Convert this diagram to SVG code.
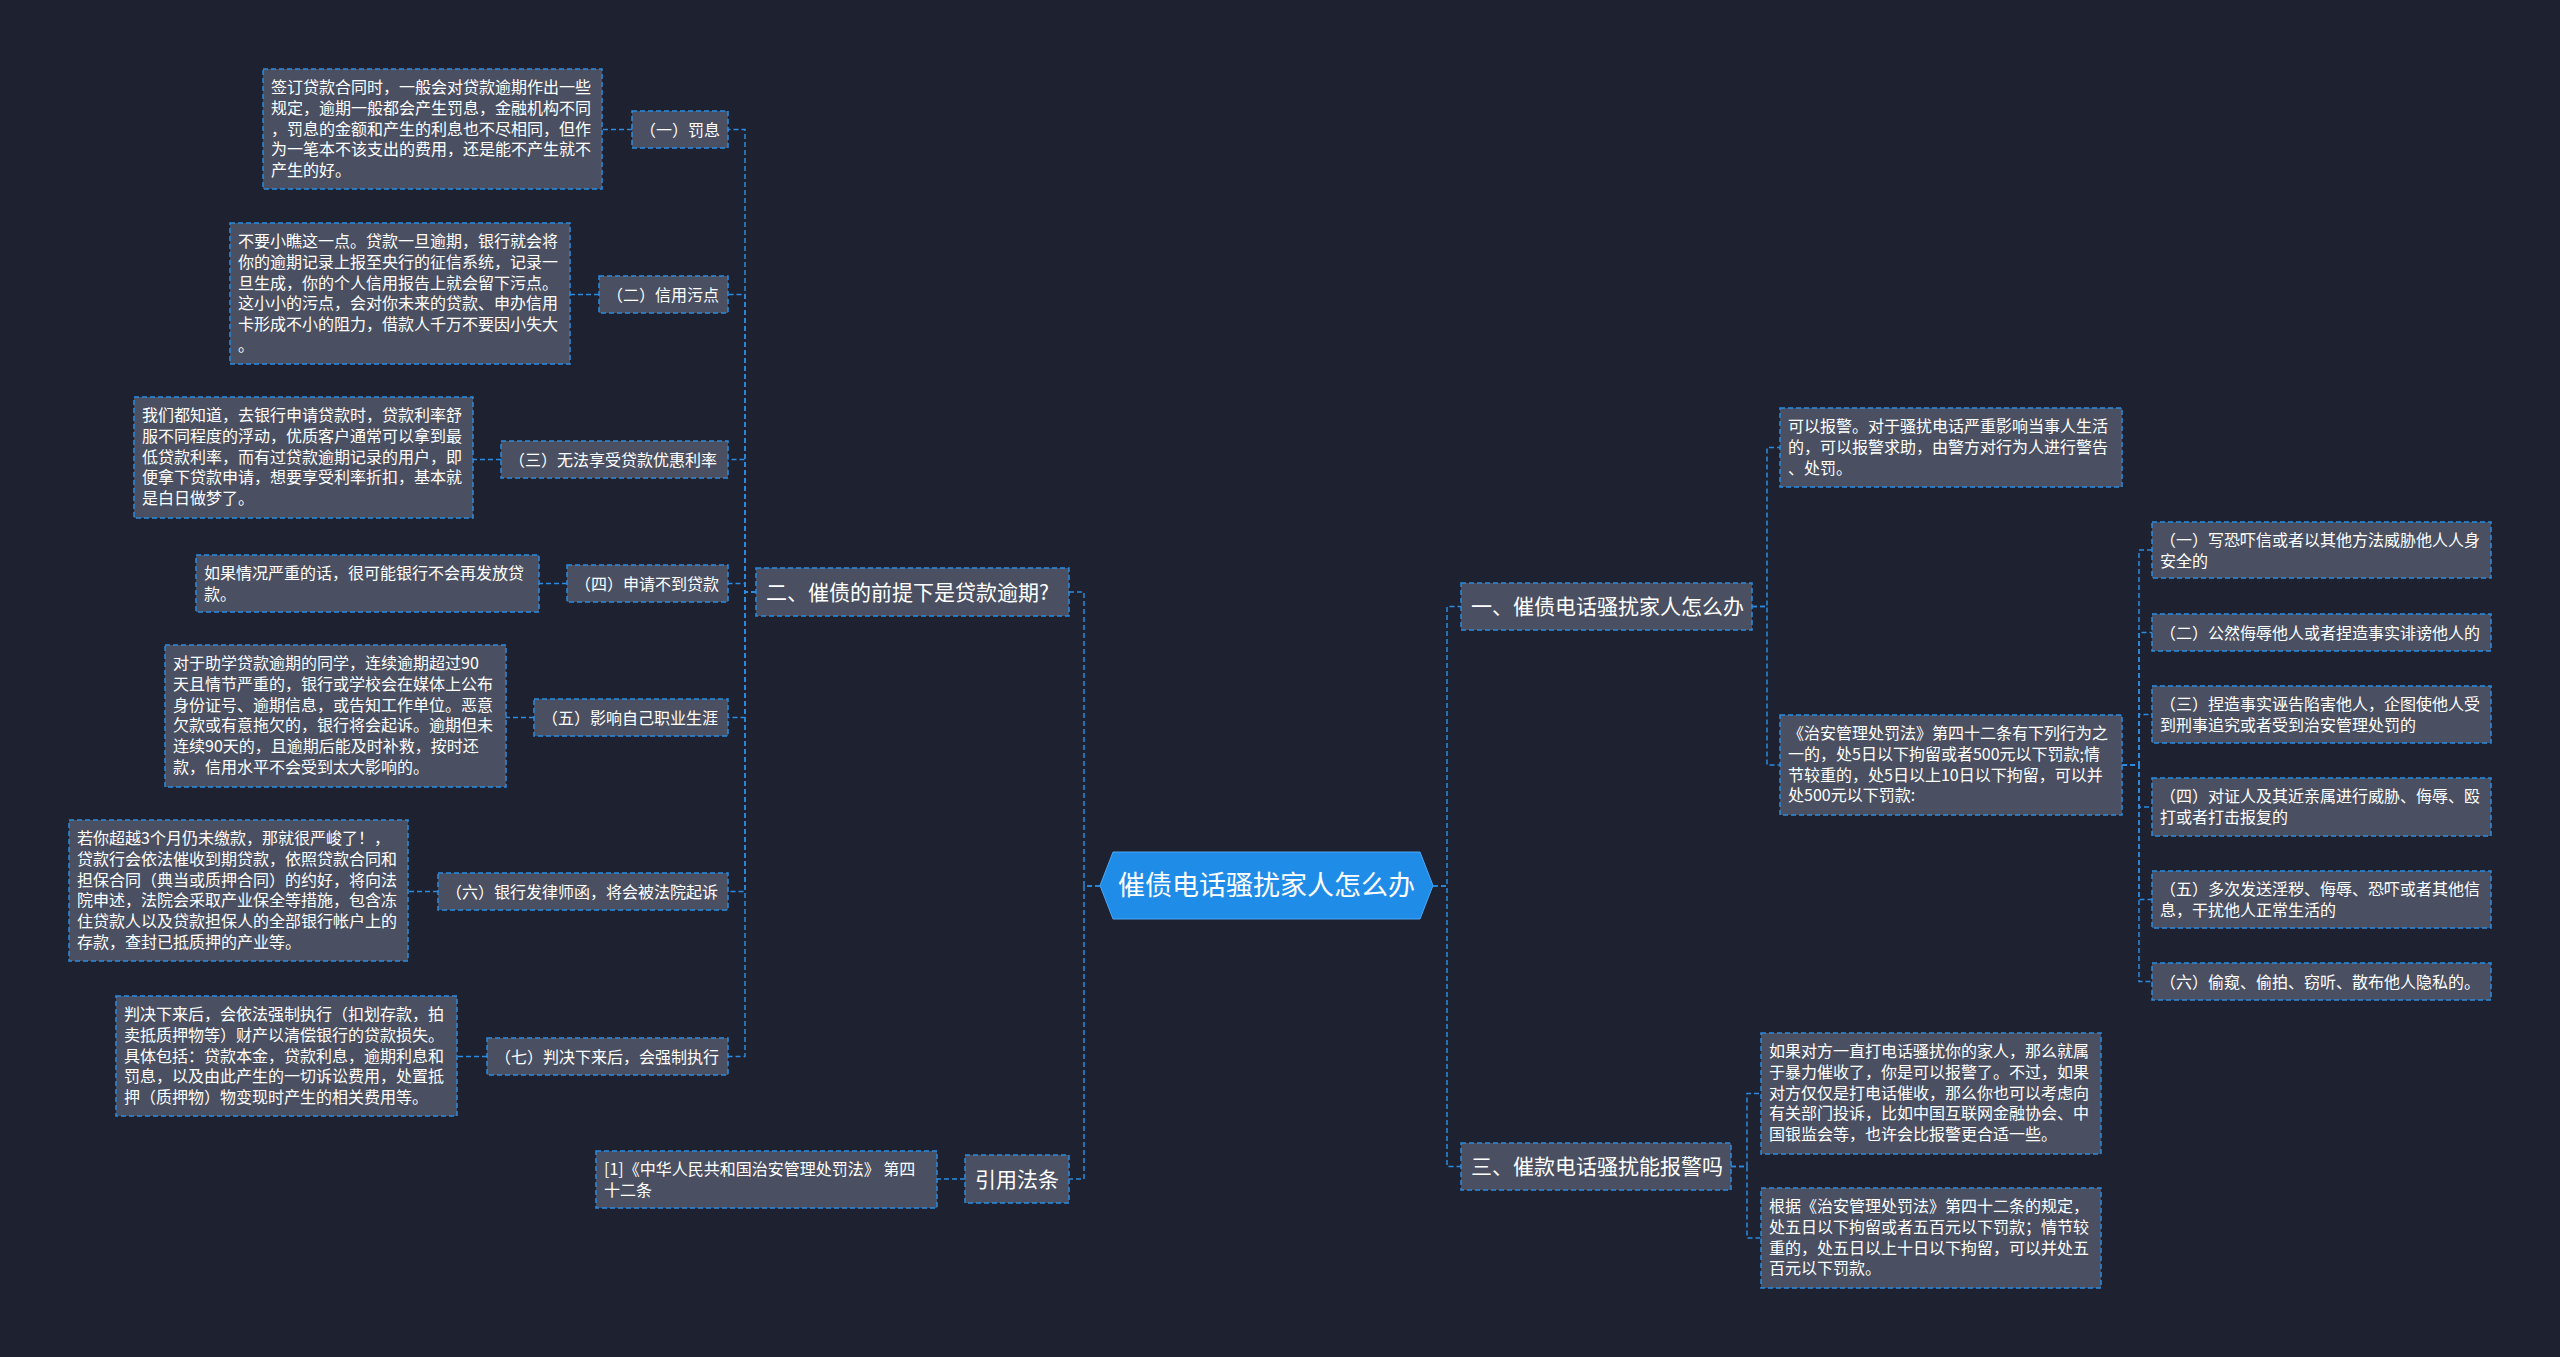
<svg xmlns="http://www.w3.org/2000/svg" width="2560" height="1357" viewBox="0 0 2560 1357">
<style>
.bg{fill:#1e2130}
.box{fill:#4a5061;stroke:#2a8be0;stroke-width:1.5;stroke-dasharray:5 3}
.edge{fill:none;stroke:#2a8be0;stroke-width:1.5;stroke-dasharray:5 3}
.t{font-family:"Noto Sans CJK SC","Noto Sans",sans-serif;font-size:16px;fill:#ffffff}
.m{font-family:"Noto Sans CJK SC","Noto Sans",sans-serif;font-size:21px;fill:#ffffff}
.c{font-family:"Noto Sans CJK SC","Noto Sans",sans-serif;font-size:27px;fill:#ffffff}
</style>
<rect class="bg" x="0" y="0" width="2560" height="1357"/>

<g id="connectors">
<path class="edge" d="M1100 886 H1084 V592 H1069"/>
<path class="edge" d="M1100 886 H1084 V1179 H1069"/>
<path class="edge" d="M1433 886 H1447 V606.5 H1461"/>
<path class="edge" d="M1433 886 H1447 V1166.5 H1461"/>
<path class="edge" d="M756 592 H745 V129.5 H728"/>
<path class="edge" d="M756 592 H745 V294.5 H728"/>
<path class="edge" d="M756 592 H745 V459.5 H728"/>
<path class="edge" d="M756 592 H745 V583.5 H728"/>
<path class="edge" d="M756 592 H745 V717.5 H728"/>
<path class="edge" d="M756 592 H745 V891.5 H728"/>
<path class="edge" d="M756 592 H745 V1056.5 H728"/>
<path class="edge" d="M632 129.5 H602"/>
<path class="edge" d="M599 294.5 H570"/>
<path class="edge" d="M501 459.5 H473"/>
<path class="edge" d="M567 583.5 H539"/>
<path class="edge" d="M534 717.5 H506"/>
<path class="edge" d="M438 891.5 H408"/>
<path class="edge" d="M487 1056.5 H457"/>
<path class="edge" d="M965 1179 H937"/>
<path class="edge" d="M1752 606.5 H1767 V447.5 H1780"/>
<path class="edge" d="M1752 606.5 H1767 V765 H1780"/>
<path class="edge" d="M2122 765 H2139 V550 H2152"/>
<path class="edge" d="M2122 765 H2139 V632.5 H2152"/>
<path class="edge" d="M2122 765 H2139 V714.5 H2152"/>
<path class="edge" d="M2122 765 H2139 V807 H2152"/>
<path class="edge" d="M2122 765 H2139 V899.5 H2152"/>
<path class="edge" d="M2122 765 H2139 V981.5 H2152"/>
<path class="edge" d="M1731 1166.5 H1747 V1093.5 H1761"/>
<path class="edge" d="M1731 1166.5 H1747 V1238 H1761"/>
</g>

<g id="center">
<polygon points="1100,885.5 1113,852 1420,852 1433,885.5 1420,919 1113,919" fill="#1f8de8" stroke="#4aa8f5" stroke-width="1"/>
<text class="c" x="1266.5" y="895" text-anchor="middle">催债电话骚扰家人怎么办</text>
</g>

<g id="main-2">
<rect class="box" x="756" y="568" width="313" height="48"/>
<text class="m" x="766" y="599.5">二、催债的前提下是贷款逾期?</text>
</g>
<g id="main-ref">
<rect class="box" x="965" y="1155" width="104" height="48"/>
<text class="m" x="975" y="1186.5">引用法条</text>
</g>
<g id="main-1">
<rect class="box" x="1461" y="583" width="291" height="47"/>
<text class="m" x="1471" y="614">一、催债电话骚扰家人怎么办</text>
</g>
<g id="main-3">
<rect class="box" x="1461" y="1143" width="270" height="47"/>
<text class="m" x="1471" y="1174">三、催款电话骚扰能报警吗</text>
</g>

<g id="s1">
<rect class="box" x="632" y="111" width="96" height="37"/>
<text class="t" x="640" y="135.5">（一）罚息</text>
</g>
<g id="s2">
<rect class="box" x="599" y="276" width="129" height="37"/>
<text class="t" x="607" y="300.5">（二）信用污点</text>
</g>
<g id="s3">
<rect class="box" x="501" y="441" width="227" height="37"/>
<text class="t" x="509" y="465.5">（三）无法享受贷款优惠利率</text>
</g>
<g id="s4">
<rect class="box" x="567" y="565" width="161" height="37"/>
<text class="t" x="575" y="589.5">（四）申请不到贷款</text>
</g>
<g id="s5">
<rect class="box" x="534" y="699" width="194" height="37"/>
<text class="t" x="542" y="723.5">（五）影响自己职业生涯</text>
</g>
<g id="s6">
<rect class="box" x="438" y="873" width="290" height="37"/>
<text class="t" x="446" y="897.5">（六）银行发律师函，将会被法院起诉</text>
</g>
<g id="s7">
<rect class="box" x="487" y="1038" width="241" height="37"/>
<text class="t" x="495" y="1062.5">（七）判决下来后，会强制执行</text>
</g>

<g id="b1">
<rect class="box" x="263" y="69" width="339" height="120"/>
<text class="t" x="271" y="93"><tspan x="271">签订贷款合同时，一般会对贷款逾期作出一些</tspan><tspan x="271" dy="20.8">规定，逾期一般都会产生罚息，金融机构不同</tspan><tspan x="271" dy="20.8">，罚息的金额和产生的利息也不尽相同，但作</tspan><tspan x="271" dy="20.8">为一笔本不该支出的费用，还是能不产生就不</tspan><tspan x="271" dy="20.8">产生的好。</tspan></text>
</g>
<g id="b2">
<rect class="box" x="230" y="223" width="340" height="141"/>
<text class="t" x="238" y="247"><tspan x="238">不要小瞧这一点。贷款一旦逾期，银行就会将</tspan><tspan x="238" dy="20.8">你的逾期记录上报至央行的征信系统，记录一</tspan><tspan x="238" dy="20.8">旦生成，你的个人信用报告上就会留下污点。</tspan><tspan x="238" dy="20.8">这小小的污点，会对你未来的贷款、申办信用</tspan><tspan x="238" dy="20.8">卡形成不小的阻力，借款人千万不要因小失大</tspan><tspan x="238" dy="20.8">。</tspan></text>
</g>
<g id="b3">
<rect class="box" x="134" y="397" width="339" height="121"/>
<text class="t" x="142" y="421"><tspan x="142">我们都知道，去银行申请贷款时，贷款利率舒</tspan><tspan x="142" dy="20.8">服不同程度的浮动，优质客户通常可以拿到最</tspan><tspan x="142" dy="20.8">低贷款利率，而有过贷款逾期记录的用户，即</tspan><tspan x="142" dy="20.8">便拿下贷款申请，想要享受利率折扣，基本就</tspan><tspan x="142" dy="20.8">是白日做梦了。</tspan></text>
</g>
<g id="b4">
<rect class="box" x="196" y="555" width="343" height="57"/>
<text class="t" x="204" y="579"><tspan x="204">如果情况严重的话，很可能银行不会再发放贷</tspan><tspan x="204" dy="20.8">款。</tspan></text>
</g>
<g id="b5">
<rect class="box" x="165" y="645" width="341" height="142"/>
<text class="t" x="173" y="669"><tspan x="173">对于助学贷款逾期的同学，连续逾期超过90</tspan><tspan x="173" dy="20.8">天且情节严重的，银行或学校会在媒体上公布</tspan><tspan x="173" dy="20.8">身份证号、逾期信息，或告知工作单位。恶意</tspan><tspan x="173" dy="20.8">欠款或有意拖欠的，银行将会起诉。逾期但未</tspan><tspan x="173" dy="20.8">连续90天的，且逾期后能及时补救，按时还</tspan><tspan x="173" dy="20.8">款，信用水平不会受到太大影响的。</tspan></text>
</g>
<g id="b6">
<rect class="box" x="69" y="820" width="339" height="141"/>
<text class="t" x="77" y="844"><tspan x="77">若你超越3个月仍未缴款，那就很严峻了！，</tspan><tspan x="77" dy="20.8">贷款行会依法催收到期贷款，依照贷款合同和</tspan><tspan x="77" dy="20.8">担保合同（典当或质押合同）的约好，将向法</tspan><tspan x="77" dy="20.8">院申述，法院会采取产业保全等措施，包含冻</tspan><tspan x="77" dy="20.8">住贷款人以及贷款担保人的全部银行帐户上的</tspan><tspan x="77" dy="20.8">存款，查封已抵质押的产业等。</tspan></text>
</g>
<g id="b7">
<rect class="box" x="116" y="996" width="341" height="120"/>
<text class="t" x="124" y="1020"><tspan x="124">判决下来后，会依法强制执行（扣划存款，拍</tspan><tspan x="124" dy="20.8">卖抵质押物等）财产以清偿银行的贷款损失。</tspan><tspan x="124" dy="20.8">具体包括：贷款本金，贷款利息，逾期利息和</tspan><tspan x="124" dy="20.8">罚息，以及由此产生的一切诉讼费用，处置抵</tspan><tspan x="124" dy="20.8">押（质押物）物变现时产生的相关费用等。</tspan></text>
</g>
<g id="ref">
<rect class="box" x="596" y="1151" width="341" height="57"/>
<text class="t" x="604" y="1175"><tspan x="604">[1]《中华人民共和国治安管理处罚法》 第四</tspan><tspan x="604" dy="20.8">十二条</tspan></text>
</g>

<g id="r1">
<rect class="box" x="1780" y="408" width="342" height="79"/>
<text class="t" x="1788" y="432"><tspan x="1788">可以报警。对于骚扰电话严重影响当事人生活</tspan><tspan x="1788" dy="20.8">的，可以报警求助，由警方对行为人进行警告</tspan><tspan x="1788" dy="20.8">、处罚。</tspan></text>
</g>
<g id="r2">
<rect class="box" x="1780" y="715" width="342" height="100"/>
<text class="t" x="1788" y="739"><tspan x="1788">《治安管理处罚法》第四十二条有下列行为之</tspan><tspan x="1788" dy="20.8">一的，处5日以下拘留或者500元以下罚款;情</tspan><tspan x="1788" dy="20.8">节较重的，处5日以上10日以下拘留，可以并</tspan><tspan x="1788" dy="20.8">处500元以下罚款:</tspan></text>
</g>

<g id="c1">
<rect class="box" x="2152" y="522" width="339" height="56"/>
<text class="t" x="2160" y="546"><tspan x="2160">（一）写恐吓信或者以其他方法威胁他人人身</tspan><tspan x="2160" dy="20.8">安全的</tspan></text>
</g>
<g id="c2">
<rect class="box" x="2152" y="614" width="339" height="37"/>
<text class="t" x="2160" y="638.5">（二）公然侮辱他人或者捏造事实诽谤他人的</text>
</g>
<g id="c3">
<rect class="box" x="2152" y="686" width="339" height="57"/>
<text class="t" x="2160" y="710"><tspan x="2160">（三）捏造事实诬告陷害他人，企图使他人受</tspan><tspan x="2160" dy="20.8">到刑事追究或者受到治安管理处罚的</tspan></text>
</g>
<g id="c4">
<rect class="box" x="2152" y="778" width="339" height="58"/>
<text class="t" x="2160" y="802"><tspan x="2160">（四）对证人及其近亲属进行威胁、侮辱、殴</tspan><tspan x="2160" dy="20.8">打或者打击报复的</tspan></text>
</g>
<g id="c5">
<rect class="box" x="2152" y="871" width="339" height="57"/>
<text class="t" x="2160" y="895"><tspan x="2160">（五）多次发送淫秽、侮辱、恐吓或者其他信</tspan><tspan x="2160" dy="20.8">息，干扰他人正常生活的</tspan></text>
</g>
<g id="c6">
<rect class="box" x="2152" y="963" width="339" height="37"/>
<text class="t" x="2160" y="987.5">（六）偷窥、偷拍、窃听、散布他人隐私的。</text>
</g>

<g id="t1">
<rect class="box" x="1761" y="1033" width="340" height="121"/>
<text class="t" x="1769" y="1057"><tspan x="1769">如果对方一直打电话骚扰你的家人，那么就属</tspan><tspan x="1769" dy="20.8">于暴力催收了，你是可以报警了。不过，如果</tspan><tspan x="1769" dy="20.8">对方仅仅是打电话催收，那么你也可以考虑向</tspan><tspan x="1769" dy="20.8">有关部门投诉，比如中国互联网金融协会、中</tspan><tspan x="1769" dy="20.8">国银监会等，也许会比报警更合适一些。</tspan></text>
</g>
<g id="t2">
<rect class="box" x="1761" y="1188" width="340" height="100"/>
<text class="t" x="1769" y="1212"><tspan x="1769">根据《治安管理处罚法》第四十二条的规定，</tspan><tspan x="1769" dy="20.8">处五日以下拘留或者五百元以下罚款；情节较</tspan><tspan x="1769" dy="20.8">重的，处五日以上十日以下拘留，可以并处五</tspan><tspan x="1769" dy="20.8">百元以下罚款。</tspan></text>
</g>
</svg>
